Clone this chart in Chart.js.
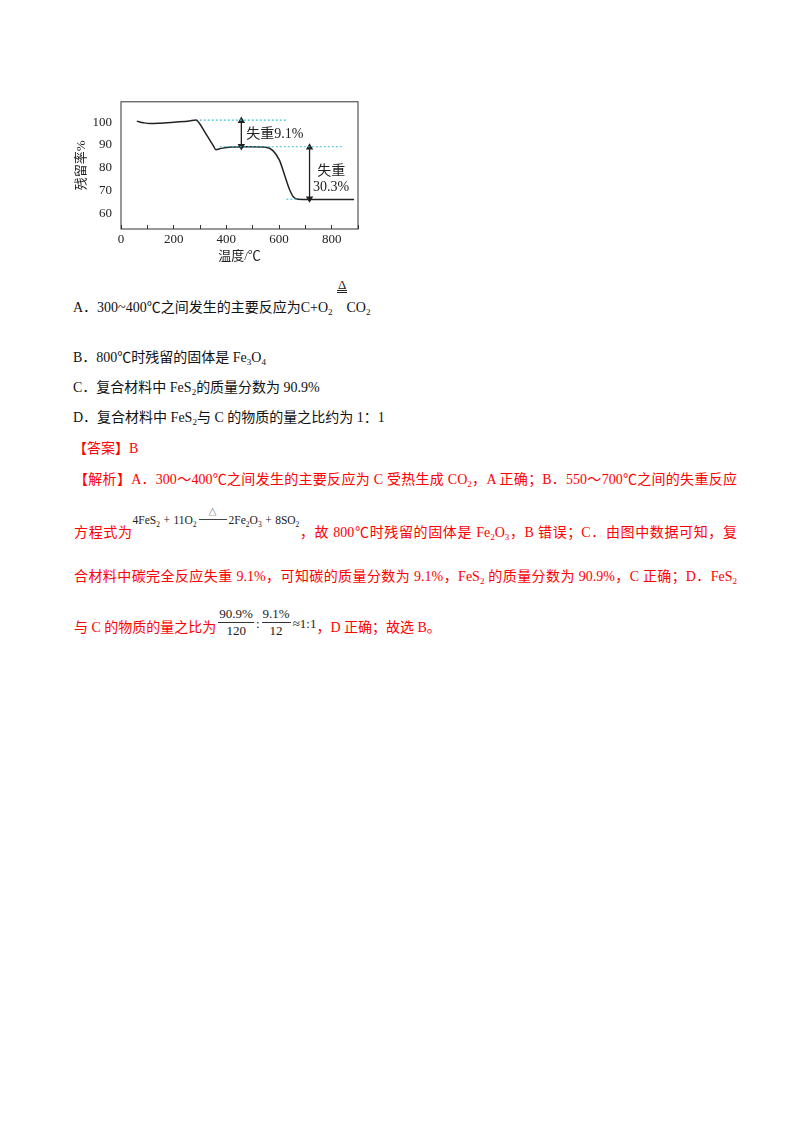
<!DOCTYPE html>
<html lang="zh-CN">
<head>
<meta charset="utf-8">
<title>残留率-温度曲线</title>
<script src="https://cdn.jsdelivr.net/npm/chart.js@4.4.1/dist/chart.umd.min.js"></script>
<style>
html, body { margin: 0; padding: 0; background: #fff; }
body { width: 800px; height: 1132px; position: relative; overflow: hidden;
  font-family: 'Liberation Serif', 'Noto Sans CJK SC', serif; font-size: 14px; }
#chartBox { position: absolute; left: 60px; top: 85px; width: 310px; height: 185px; }
.ln { position: absolute; line-height: 20px; white-space: nowrap; color: #111; }
.red { color: #f00; }
.full { width: 663px; white-space: normal; text-align: justify; text-align-last: justify; }
sub { font-size: 9px; vertical-align: -3px; line-height: 0; }
.heat { position: absolute; left: 337px; top: 280px; font-size: 13px; line-height: 10px; color: #222;
  border-bottom: 3px double #222; padding: 0 1px; }
.eq { position: relative; top: -13px; font-size: 11.5px; color: #222; white-space: nowrap; }
.eq sub { font-size: 7.5px; }
.cond { display: inline-block; position: relative; width: 28px; height: 0; border-top: 1px solid #444;
  vertical-align: 4px; margin: 0 2px; }
.cond span { position: absolute; left: 50%; top: -11px; transform: translateX(-50%);
  font-size: 8px; line-height: 8px; }
.frac { display: inline-flex; flex-direction: column; align-items: center; position: relative; top: -14px;
  font-size: 13px; color: #222; line-height: 16px; vertical-align: baseline; margin: 0 2px; }
.frac .num { border-bottom: 1px solid #333; padding: 0 1px; }
.blk { color: #222; font-size: 13px; position: relative; top: -4px; }
</style>
</head>
<body>
<div id="chartBox"><canvas id="tgChart"></canvas></div>

<div class="heat">Δ</div>
<div class="ln" style="left:73px;top:298px">A．300~400℃之间发生的主要反应为C+O<sub>2</sub><span style="display:inline-block;width:14px"></span>CO<sub>2</sub></div>
<div class="ln" style="left:73px;top:348px">B．800℃时残留的固体是 Fe<sub>3</sub>O<sub>4</sub></div>
<div class="ln" style="left:73px;top:378px">C．复合材料中 FeS<sub>2</sub>的质量分数为 90.9%</div>
<div class="ln" style="left:73px;top:408px">D．复合材料中 FeS<sub>2</sub>与 C 的物质的量之比约为 1：1</div>

<div class="ln red" style="left:73px;top:439px">【答案】B</div>
<div class="ln red full" style="left:74px;top:470px">【解析】A．300～400℃之间发生的主要反应为 C 受热生成 CO<sub>2</sub>，A 正确；B．550～700℃之间的失重反应</div>
<div class="ln red full" style="left:74px;top:523px">方程式为<span class="eq">4FeS<sub>2</sub> + 11O<sub>2</sub><span class="cond"><span>△</span></span>2Fe<sub>2</sub>O<sub>3</sub> + 8SO<sub>2</sub></span>，故 800℃时残留的固体是 Fe<sub>2</sub>O<sub>3</sub>，B 错误；C．由图中数据可知，复</div>
<div class="ln red full" style="left:74px;top:567px">合材料中碳完全反应失重 9.1%，可知碳的质量分数为 9.1%，FeS<sub>2</sub> 的质量分数为 90.9%，C 正确；D．FeS<sub>2</sub></div>
<div class="ln red" style="left:74px;top:618px">与 C 的物质的量之比为<span class="frac"><span class="num">90.9%</span><span>120</span></span><span class="blk">:</span><span class="frac"><span class="num">9.1%</span><span>12</span></span><span class="blk">≈1:1</span>，D 正确；故选 B。</div>

<script>
// 热重曲线：温度 / ℃ 与 残留率 / %
const temps = [60, 85, 110, 150, 210, 260, 285, 296, 325, 352, 360, 380, 420, 480, 550, 577, 602, 621, 640, 655, 672, 720, 800, 885];
const residue = [100.5, 99.8, 99.4, 99.6, 100.1, 100.6, 101.0, 99.8, 94.4, 89.4, 87.9, 88.5, 89.1, 89.2, 89.0, 87.5, 83.2, 76.8, 70.4, 67.1, 66.1, 66.0, 66.0, 66.0];

// 坐标轴刻度
const xTicks = [0, 100, 200, 300, 400, 500, 600, 700, 800, 900];
const xLabels = ['0', '', '200', '', '400', '', '600', '', '800', ''];
const yTicks = [60, 70, 80, 90, 100];

// 虚线参考线
const guide1X = [299, 632];
const guide1Y = [100.9, 100.9];
const guide2X = [375, 845];
const guide2Y = [89.2, 89.2];
const guide3X = [628, 668];
const guide3Y = [66.1, 66.1];

// 双向箭头
const arrow1X = [457, 457];
const arrow1Y = [100.6, 89.5];
const arrow2X = [716, 716];
const arrow2Y = [88.9, 66.4];

// 标注文字
const noteText = ['失重9.1%', '失重', '30.3%'];
const noteX = [476, 798, 798];
const noteY = [94.6, 78.5, 71.4];
const noteAlign = ['left', 'center', 'center'];

const ink = '#222';
const cyan = '#3dbfe0';
const serif = "'Liberation Serif', 'Noto Sans CJK SC', serif";

const pts = (xs, ys) => xs.map((v, i) => ({ x: v, y: ys[i] }));

const guide = (xs, ys) => ({
  data: pts(xs, ys),
  borderColor: cyan,
  borderWidth: 1.2,
  borderDash: [2, 2],
  pointRadius: 0,
  tension: 0
});

const arrow = (xs, ys) => ({
  data: pts(xs, ys),
  borderColor: ink,
  backgroundColor: ink,
  borderWidth: 1.3,
  pointStyle: 'triangle',
  pointRadius: 3,
  pointRotation: [0, 180],
  tension: 0
});

// 边框和标注
const frameAndNotes = {
  id: 'frameAndNotes',
  afterDatasetsDraw(chart) {
    const { ctx, chartArea: a, scales: { x, y } } = chart;
    ctx.save();
    ctx.strokeStyle = '#333';
    ctx.lineWidth = 1;
    ctx.strokeRect(a.left, a.top, a.right - a.left, a.bottom - a.top);
    ctx.fillStyle = ink;
    ctx.font = '14px ' + serif;
    ctx.textBaseline = 'middle';
    noteText.forEach((t, i) => {
      ctx.textAlign = noteAlign[i];
      ctx.fillText(t, x.getPixelForValue(noteX[i]), y.getPixelForValue(noteY[i]));
    });
    ctx.restore();
  }
};

new Chart(document.getElementById('tgChart'), {
  type: 'line',
  data: {
    datasets: [
      guide(guide1X, guide1Y),
      guide(guide2X, guide2Y),
      guide(guide3X, guide3Y),
      {
        data: pts(temps, residue),
        borderColor: ink,
        borderWidth: 1.5,
        pointRadius: 0,
        cubicInterpolationMode: 'monotone'
      },
      arrow(arrow1X, arrow1Y),
      arrow(arrow2X, arrow2Y)
    ]
  },
  options: {
    responsive: true,
    maintainAspectRatio: false,
    animation: false,
    layout: { padding: { top: 13, right: 12, left: 0, bottom: 0 } },
    plugins: { legend: { display: false }, tooltip: { enabled: false } },
    scales: {
      x: {
        type: 'linear',
        min: 0,
        max: 900,
        afterBuildTicks: s => { s.ticks = xTicks.map(v => ({ value: v })); },
        afterFit: s => { s.height = 41; },
        border: { display: false },
        grid: { drawOnChartArea: false, tickLength: -4, color: '#333' },
        ticks: {
          autoSkip: false,
          maxRotation: 0,
          padding: 7,
          color: ink,
          font: { family: serif, size: 13 },
          callback: (v, i) => xLabels[i]
        },
        title: {
          display: true,
          text: '温度/℃',
          color: ink,
          font: { family: serif, size: 13 },
          padding: { top: 0, bottom: 5.5 }
        }
      },
      y: {
        min: 53,
        max: 109,
        afterBuildTicks: s => { s.ticks = yTicks.map(v => ({ value: v })); },
        afterFit: s => { s.width = 61; },
        border: { display: false },
        grid: { drawOnChartArea: false, drawTicks: false },
        ticks: {
          padding: 9,
          color: ink,
          font: { family: serif, size: 13 }
        },
        title: {
          display: true,
          text: '残留率%',
          color: ink,
          font: { family: serif, size: 13 },
          padding: { top: 14, bottom: 0 }
        }
      }
    }
  },
  plugins: [frameAndNotes]
});
</script>
</body>
</html>
